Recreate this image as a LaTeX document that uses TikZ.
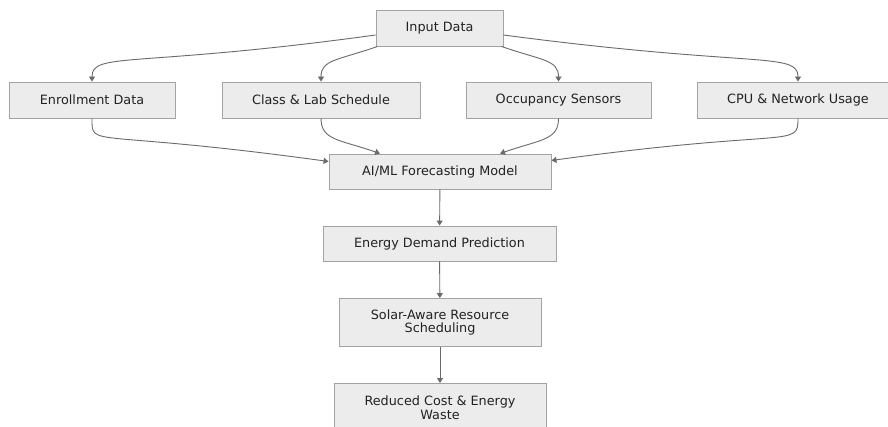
\documentclass[tikz,border=0pt]{standalone}
\usepackage{fontspec}
\setsansfont{DejaVu Sans}
\usetikzlibrary{arrows.meta}
\definecolor{boxfill}{HTML}{ECECEC}
\definecolor{boxline}{HTML}{A3A3A3}
\definecolor{edgegray}{HTML}{6A6A6A}
\definecolor{txtgray}{HTML}{222222}

\begin{document}
\begin{tikzpicture}[x=1pt, y=1pt, >={Triangle[length=5pt,width=6pt]},
  box/.style={draw=boxline, fill=boxfill, line width=0.9pt, inner sep=0pt,
    minimum height=36pt, align=center, text=txtgray,
    font=\sffamily\fontsize{12.8}{13.5}\selectfont},
  flow/.style={->, draw=edgegray, line width=0.9pt}]
  \useasboundingbox (0,0) rectangle (888,-427);
  \fill[white] (0,0) rectangle (888,-427);
  % Source
  \node[box, minimum width=127pt] (input) at (439.5,-28) {Input Data};
  % Inputs
  \node[box, minimum width=166pt] (enroll) at (92,-100) {Enrollment Data};
  \node[box, minimum width=198pt] (sched) at (321,-100) {Class \& Lab Schedule};
  \node[box, minimum width=185pt] (occup) at (558.5,-100) {Occupancy Sensors};
  \node[box, minimum width=202pt] (cpunet) at (798,-100) {CPU \& Network Usage};
  % Pipeline
  \node[box, minimum width=222pt, minimum height=35pt] (model) at (440,-171.5) {AI/ML Forecasting Model};
  \node[box, minimum width=233pt, minimum height=35pt] (demand) at (439.5,-243.5) {Energy Demand Prediction};
  \node[box, minimum width=202pt, minimum height=48pt] (solar) at (440,-322.5) {Solar-Aware Resource\\Scheduling};
  \node[box, minimum width=212pt, minimum height=48pt] (saving) at (440,-407.5) {Reduced Cost \& Energy\\Waste};
  % Fan out
  \draw[flow] ([yshift=-7pt]input.west) .. controls +(-240,-33) and +(0,30) .. (enroll.north);
  \draw[flow] ([xshift=-62pt]input.south) .. controls +(-40,-14) and +(0,22) .. (sched.north);
  \draw[flow] ([xshift=62pt]input.south) .. controls +(40,-14) and +(0,22) .. (occup.north);
  \draw[flow] ([yshift=-7pt]input.east) .. controls +(250,-33) and +(0,30) .. (cpunet.north);
  % Fan in
  \draw[flow] (enroll.south) .. controls +(0,-30) and +(-240,33) .. ([yshift=10pt]model.west);
  \draw[flow] (sched.south) .. controls +(0,-22) and +(-40,14) .. ([xshift=-60pt]model.north);
  \draw[flow] (occup.south) .. controls +(0,-22) and +(40,14) .. ([xshift=60pt]model.north);
  \draw[flow] (cpunet.south) .. controls +(0,-30) and +(240,33) .. ([yshift=11pt]model.east);
  % Chain
  \draw[flow] (model) -- (demand);
  \draw[flow] (demand) -- (solar);
  \draw[flow] (solar) -- (saving);
\end{tikzpicture}
\end{document}
